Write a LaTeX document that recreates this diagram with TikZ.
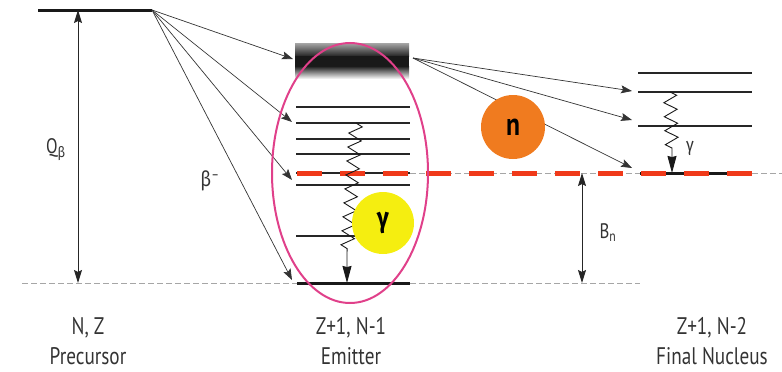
\documentclass[tikz,border=0pt]{standalone}
\usepackage{fontspec}
\setmainfont{PT Sans}[FakeStretch=0.8]
\newfontfamily\grk{Fira Sans}[FakeStretch=0.85]
\usetikzlibrary{arrows.meta,decorations.pathmorphing}
\definecolor{pinkring}{HTML}{E0408A}
\definecolor{reddash}{HTML}{F03A1A}
\definecolor{orangeball}{HTML}{F07B1F}
\definecolor{yellowball}{HTML}{F5EE10}
\definecolor{txt}{HTML}{333333}
\begin{document}
\begin{tikzpicture}[x=1pt,y=-1pt,
  lvl/.style={line width=1.5pt, draw=black!85},
  gndlvl/.style={line width=3pt, draw=black!90},
  gnd/.style={draw=gray!70, line width=0.8pt, dash pattern=on 6pt off 3pt},
  redline/.style={draw=reddash, line width=5pt, dash pattern=on 25pt off 18pt},
  betaarrow/.style={-{Stealth[length=11pt,width=8pt,inset=2pt]}, line width=0.7pt, draw=black!80},
  dblarrow/.style={{Stealth[length=13pt,width=8pt,inset=2pt]}-{Stealth[length=13pt,width=8pt,inset=2pt]}, line width=0.9pt, draw=black!85},
  gamarrow/.style={-{Stealth[length=17pt,width=9pt,inset=1pt]}, line width=0.9pt, draw=black!90},
  zz/.style={decoration={zigzag, segment length=14pt, amplitude=6.5pt}},
  lbl/.style={font=\fontsize{24}{26}\selectfont, text=txt, inner sep=0pt},
  sym/.style={font=\fontsize{21}{24}\selectfont, text=txt, inner sep=0pt},
  ball/.style={circle, inner sep=0pt, text=black}
]
\useasboundingbox (0,0) rectangle (782,372);

% ground dashed lines
\coordinate (g0) at (22,283);
\coordinate (g1) at (297,283);
\coordinate (g2) at (410,283);
\coordinate (g3) at (640,283);
\draw[gnd] (g0) -- (g1);
\draw[gnd] (g2) -- (g3);
\coordinate (s0) at (410,173);
\coordinate (s1) at (782,173);
\draw[gnd] (s0) -- (s1);

% precursor level
\coordinate (p0) at (38,10);
\coordinate (src) at (152,10);
\draw[line width=3pt, draw=black!90] (p0) -- (src);

% Q beta arrow
\coordinate (qa) at (78,10);
\coordinate (qb) at (78,283);
\draw[dblarrow] (qa) -- (qb);
\node[sym] (qlbl) at (56,150) {Q\textsubscript{\grk β}};

% emitter band (gradient)
\shade[top color=black!35, bottom color=black!85] (295,43) rectangle (409,56);
\fill[black!90] (295,55.5) rectangle (409,66.5);
\shade[top color=black!90, bottom color=white] (295,66) rectangle (409,79);
\coordinate (bandR) at (413,58);

% emitter levels
\foreach \yy/\nm in {107/e1,123/e2,139/e3,154/e4,173/e5,185/e6}{
  \coordinate (\nm L) at (296,\yy);
  \coordinate (\nm R) at (410,\yy);
  \draw[lvl] (\nm L) -- (\nm R);
}
\coordinate (e7L) at (296,236);
\coordinate (e7R) at (360,236);
\draw[lvl] (e7L) -- (e7R);
\draw[gndlvl] (g1) -- (g2);

% final nucleus levels
\foreach \yy/\nm in {73/f1,92/f2,126/f3}{
  \coordinate (\nm L) at (638,\yy);
  \coordinate (\nm R) at (752,\yy);
  \draw[lvl] (\nm L) -- (\nm R);
}
\coordinate (f0L) at (640,173);
\coordinate (f0R) at (752,173);
\draw[gndlvl] (f0L) -- (f0R);

% red dashed neutron separation line
\coordinate (r0) at (297,173);
\coordinate (r1) at (755,173);
\draw[redline] (r0) -- (r1);

% beta arrows
\coordinate (t1) at (293,59);
\coordinate (t2) at (292,122);
\coordinate (t3) at (292,180);
\coordinate (t4) at (292,280);
\foreach \t in {t1,t2,t3,t4}{\draw[betaarrow] (src) -- (\t);}
\node[sym] (blbl) at (210,181) {{\grk β}\textsuperscript{–}};

% neutron arrows
\coordinate (n1) at (632,91);
\coordinate (n2) at (632,120);
\coordinate (n3) at (632,168);
\foreach \t in {n1,n2,n3}{\draw[betaarrow] (bandR) -- (\t);}

% balls
\node[ball, fill=orangeball, minimum size=64pt, font=\fontsize{32}{34}\selectfont\bfseries] (nball) at (513,127) {n};

% emitter gamma cascade
\coordinate (ga) at (356,123);
\coordinate (gb) at (347,252);
\coordinate (gc) at (347,283);
\draw[gamarrow] (ga) decorate[zz]{-- (gb)} -- (gc);
\node[ball, fill=yellowball, minimum size=62pt, font=\fontsize{28}{30}\selectfont\grk\bfseries] (yball) at (383,223) {γ};

% final gamma
\coordinate (fa) at (670,92);
\coordinate (fb) at (672,150);
\coordinate (fc) at (672,173);
\draw[gamarrow] (fa) decorate[zz]{-- (fb)} -- (fc);
\node[font=\fontsize{19}{21}\selectfont\grk, text=txt, inner sep=0pt] (gl) at (690,148) {γ};

% B_n arrow
\coordinate (ba) at (582,173);
\coordinate (bb) at (582,283);
\draw[dblarrow] (ba) -- (bb);
\node[sym] (bnl) at (608,233) {B\textsubscript{n}};

% pink ellipse
\draw[pinkring, line width=2pt] (350,173) ellipse [x radius=78, y radius=130];

% bottom labels
\node[lbl] (nz) at (88,328) {N, Z};
\node[lbl] (prec) at (88,356) {Precursor};
\node[lbl] (em1) at (351,328) {Z+1, N-1};
\node[lbl] (em2) at (351,356) {Emitter};
\node[lbl] (fn1) at (712,328) {Z+1, N-2};
\node[lbl] (fn2) at (712,356) {Final Nucleus};
\end{tikzpicture}
\end{document}
